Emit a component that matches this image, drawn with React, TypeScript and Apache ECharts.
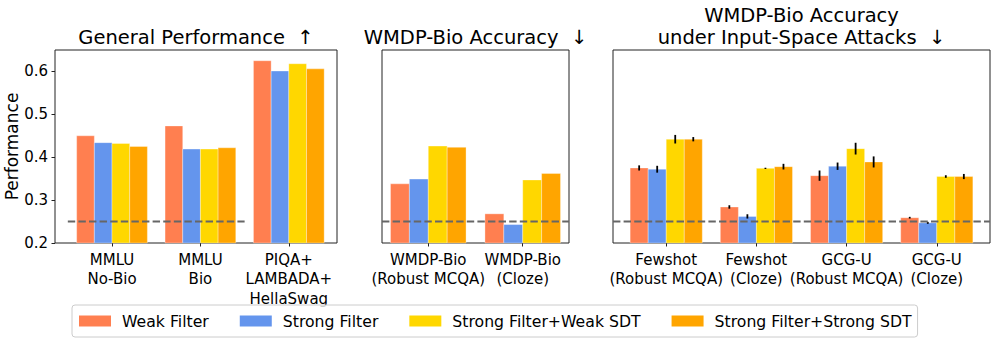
import React, { useEffect, useRef } from 'react';
import * as echarts from 'echarts';

const methods = ['Weak Filter', 'Strong Filter', 'Strong Filter+Weak SDT', 'Strong Filter+Strong SDT'];
const colors = ['#FF7F50', '#6495ED', '#FFD700', '#FFA500'];

const generalCategories = ['MMLU\nNo-Bio', 'MMLU\nBio', 'PIQA+\nLAMBADA+\nHellaSwag'];
const generalWeak = [0.450, 0.473, 0.625];
const generalStrong = [0.434, 0.419, 0.601];
const generalWeakSDT = [0.432, 0.419, 0.618];
const generalStrongSDT = [0.425, 0.422, 0.606];

const wmdpCategories = ['WMDP-Bio\n(Robust MCQA)', 'WMDP-Bio\n(Cloze)'];
const wmdpWeak = [0.338, 0.268];
const wmdpStrong = [0.349, 0.243];
const wmdpWeakSDT = [0.426, 0.347];
const wmdpStrongSDT = [0.423, 0.362];

const attackCategories = ['Fewshot\n(Robust MCQA)', 'Fewshot\n(Cloze)', 'GCG-U\n(Robust MCQA)', 'GCG-U\n(Cloze)'];
const attackWeak = [0.375, 0.284, 0.357, 0.259];
const attackStrong = [0.372, 0.262, 0.379, 0.247];
const attackWeakSDT = [0.442, 0.374, 0.420, 0.355];
const attackStrongSDT = [0.442, 0.378, 0.389, 0.355];
const attackWeakErr = [0.006, 0.004, 0.012, 0.002];
const attackStrongErr = [0.008, 0.005, 0.0086, 0.0023];
const attackWeakSDTErr = [0.010, 0.0015, 0.0137, 0.003];
const attackStrongSDTErr = [0.005, 0.0066, 0.0129, 0.006];

const chanceLevel = 0.25;
const generalChanceSpan = [-0.5, 1.5];
const yMin = 0.2;
const yMax = 0.65;
const yTicks = [0.2, 0.3, 0.4, 0.5, 0.6];

const FONT = 'DejaVu Sans';
const barWidthUnits = 0.2;
const offsets = [-0.3, -0.1, 0.1, 0.3];

function xLimits(n: number, extra?: number[]) {
  let lo = -0.4;
  let hi = n - 1 + 0.4;
  if (extra) {
    lo = Math.min(lo, extra[0]);
    hi = Math.max(hi, extra[1]);
  }
  const pad = 0.05 * (hi - lo);
  return [lo - pad, hi + pad];
}

function barSeries(xAxisIndex: number, yAxisIndex: number, m: number, values: number[], errs?: number[]) {
  return {
    type: 'custom',
    name: methods[m],
    xAxisIndex,
    yAxisIndex,
    itemStyle: { color: colors[m] },
    data: values.map((v, i) => [i, v, errs ? errs[i] : 0]),
    encode: { x: 0, y: 1 },
    z: 2,
    renderItem: (params: any, api: any) => {
      const i = api.value(0);
      const v = api.value(1);
      const e = api.value(2);
      const x = i + offsets[m];
      const top = api.coord([x, v]);
      const base = api.coord([x, yMin]);
      const w = api.size([barWidthUnits, 0])[0];
      const children: any[] = [
        {
          type: 'rect',
          shape: { x: top[0] - w / 2, y: top[1], width: w, height: base[1] - top[1] },
          style: { fill: colors[m], stroke: 'rgba(255,255,255,0.55)', lineWidth: 0.6 },
        },
      ];
      if (e > 0) {
        const a = api.coord([x, v + e]);
        const b = api.coord([x, v - e]);
        children.push({
          type: 'line',
          shape: { x1: a[0], y1: a[1], x2: b[0], y2: b[1] },
          style: { stroke: '#000', lineWidth: 1.8 },
        });
      }
      return { type: 'group', children };
    },
  };
}

function chanceSeries(xAxisIndex: number, yAxisIndex: number, x0: number, x1: number) {
  return {
    type: 'line',
    xAxisIndex,
    yAxisIndex,
    data: [[x0, chanceLevel], [x1, chanceLevel]],
    symbol: 'none',
    silent: true,
    z: 5,
    lineStyle: { color: '#666', width: 2, type: [7.4, 3.2] },
  };
}

export default function App() {
  const ref = useRef<HTMLDivElement>(null);
  useEffect(() => {
    document.body.style.margin = '0';
    if (!ref.current) return;
    const chart = echarts.init(ref.current, undefined, { renderer: 'svg' });

    const panels = [
      { cats: generalCategories, left: 55, width: 282, lim: xLimits(generalCategories.length, generalChanceSpan) },
      { cats: wmdpCategories, left: 382, width: 187, lim: xLimits(wmdpCategories.length) },
      { cats: attackCategories, left: 613, width: 377, lim: xLimits(attackCategories.length) },
    ];

    const grids = panels.map((p) => ({
      left: p.left,
      top: 50,
      width: p.width,
      height: 193,
      show: true,
      borderColor: '#222',
      borderWidth: 1,
      containLabel: false,
    }));

    // one x axis per category label (same scale), so no label is dropped for overlap
    const xAxes: any[] = [];
    const hostX: number[] = [];
    panels.forEach((p, gi) => {
      p.cats.forEach((cat, ci) => {
        if (ci === 0) hostX.push(xAxes.length);
        xAxes.push({
          type: 'value',
          gridIndex: gi,
          position: 'bottom',
          min: p.lim[0],
          max: p.lim[1],
          splitLine: { show: false },
          axisLine: { show: false, onZero: false },
          axisTick: {
            show: true,
            length: 3.5,
            customValues: [ci],
            lineStyle: { color: '#222', width: 1 },
          },
          axisLabel: {
            show: true,
            customValues: [ci],
            showMinLabel: true,
            showMaxLabel: true,
            formatter: () => cat,
            fontFamily: FONT,
            fontSize: 15,
            color: '#000',
            lineHeight: 19.5,
            margin: 7,
            align: 'center',
            verticalAlign: 'top',
          },
        });
      });
    });

    const yAxes = panels.map((p, gi) => ({
      type: 'value',
      gridIndex: gi,
      min: yMin,
      max: yMax,
      splitLine: { show: false },
      axisLine: { show: false, onZero: false },
      axisTick: gi === 0
        ? { show: true, length: 3.5, customValues: yTicks, lineStyle: { color: '#222', width: 1 } }
        : { show: false },
      axisLabel: gi === 0
        ? {
            show: true,
            customValues: yTicks,
            showMinLabel: true,
            formatter: (v: number) => v.toFixed(1),
            fontFamily: FONT,
            fontSize: 15,
            color: '#000',
            margin: 7,
          }
        : { show: false },
      name: gi === 0 ? 'Performance' : '',
      nameLocation: 'middle',
      nameGap: 29,
      nameTextStyle: { fontFamily: FONT, fontSize: 17, color: '#000' },
    }));

    const series: any[] = [
      barSeries(hostX[0], 0, 0, generalWeak),
      barSeries(hostX[0], 0, 1, generalStrong),
      barSeries(hostX[0], 0, 2, generalWeakSDT),
      barSeries(hostX[0], 0, 3, generalStrongSDT),
      chanceSeries(hostX[0], 0, generalChanceSpan[0], generalChanceSpan[1]),
      barSeries(hostX[1], 1, 0, wmdpWeak),
      barSeries(hostX[1], 1, 1, wmdpStrong),
      barSeries(hostX[1], 1, 2, wmdpWeakSDT),
      barSeries(hostX[1], 1, 3, wmdpStrongSDT),
      chanceSeries(hostX[1], 1, panels[1].lim[0], panels[1].lim[1]),
      barSeries(hostX[2], 2, 0, attackWeak, attackWeakErr),
      barSeries(hostX[2], 2, 1, attackStrong, attackStrongErr),
      barSeries(hostX[2], 2, 2, attackWeakSDT, attackWeakSDTErr),
      barSeries(hostX[2], 2, 3, attackStrongSDT, attackStrongSDTErr),
      chanceSeries(hostX[2], 2, panels[2].lim[0], panels[2].lim[1]),
    ];

    const titleStyle = { fill: '#000', fontFamily: FONT, fontSize: 19.5, align: 'center', verticalAlign: 'middle' };

    chart.setOption({
      animation: false,
      backgroundColor: '#fff',
      grid: grids,
      xAxis: xAxes,
      yAxis: yAxes,
      series,
      legend: {
        left: 72,
        top: 305,
        orient: 'horizontal',
        padding: [8, 6, 8, 7],
        itemGap: 31,
        itemWidth: 32,
        itemHeight: 11,
        borderColor: '#ccc',
        borderWidth: 1,
        borderRadius: 3,
        backgroundColor: 'rgba(255,255,255,0.8)',
        selectedMode: false,
        textStyle: { fontFamily: FONT, fontSize: 15.7, color: '#000', padding: [0, 0, 0, 6] },
        data: methods.map((n, i) => ({ name: n, icon: 'rect', itemStyle: { color: colors[i] } })),
      },
      graphic: [
        { type: 'text', x: 196, y: 37, style: { ...titleStyle, text: 'General Performance  ↑' } },
        { type: 'text', x: 475.5, y: 37, style: { ...titleStyle, text: 'WMDP-Bio Accuracy  ↓' } },
        { type: 'text', x: 801.5, y: 15, style: { ...titleStyle, text: 'WMDP-Bio Accuracy' } },
        { type: 'text', x: 801.5, y: 37, style: { ...titleStyle, text: 'under Input-Space Attacks  ↓' } },
      ],
    });

    return () => chart.dispose();
  }, []);

  return <div ref={ref} style={{ position: 'absolute', left: 0, top: 0, width: 996, height: 342 }} />;
}
